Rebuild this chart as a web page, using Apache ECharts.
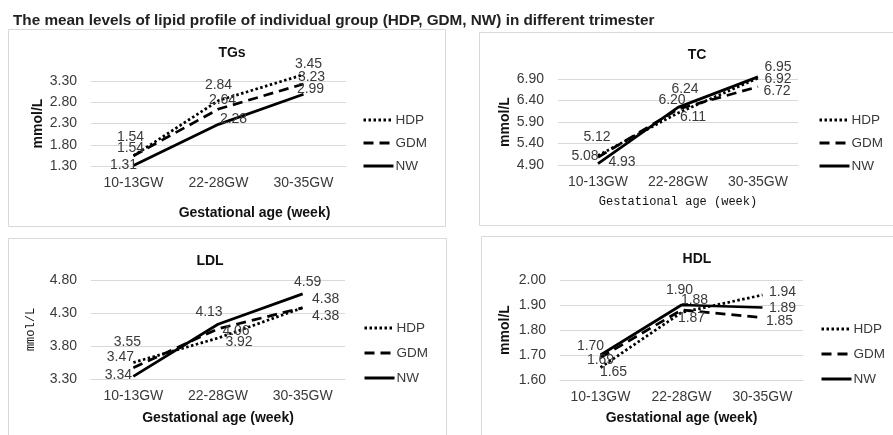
<!DOCTYPE html>
<html>
<head>
<meta charset="utf-8">
<script src="https://cdn.jsdelivr.net/npm/echarts@6/dist/echarts.min.js"></script>
<style>
    html, body { margin: 0; padding: 0; background: #fff; }
    #main { width: 893px; height: 435px; }
</style>
</head>
<body>
<div id="main"></div>
<script>
// categories and groups
var categories = ['10-13GW', '22-28GW', '30-35GW'];
var groups = ['HDP', 'GDM', 'NW'];

// TGs (mmol/L)
var tgHDP = [1.54, 2.84, 3.45];
var tgGDM = [1.54, 2.64, 3.23];
var tgNW = [1.31, 2.28, 2.99];

// TC (mmol/L)
var tcHDP = [5.12, 6.11, 6.92];
var tcGDM = [5.08, 6.20, 6.72];
var tcNW = [4.93, 6.24, 6.95];

// LDL (mmol/L)
var ldlHDP = [3.55, 3.92, 4.38];
var ldlGDM = [3.47, 4.06, 4.38];
var ldlNW = [3.34, 4.13, 4.59];

// HDL (mmol/L)
var hdlHDP = [1.65, 1.87, 1.94];
var hdlGDM = [1.69, 1.88, 1.85];
var hdlNW = [1.70, 1.90, 1.89];

// y axis ranges [min, max, interval]
var tgAxis = [1.3, 3.3, 0.5];
var tcAxis = [4.9, 6.9, 0.5];
var ldlAxis = [3.3, 4.8, 0.5];
var hdlAxis = [1.6, 2.0, 0.1];

var sans = 'Liberation Sans, Arial, sans-serif';
var simsun = 'Liberation Mono, monospace';
var textColor = '#3a3a3a';

// line look per group
var lineTypes = {
    HDP: { type: [2.5, 2.5], cap: 'butt' },
    GDM: { type: [10, 6], cap: 'butt' },
    NW: { type: 'solid', cap: 'butt' }
};

// panel layout, label nudges are [dx, dy] from the point
var panels = [{
    title: 'TGs', titleAt: [227, 49],
    values: [tgHDP, tgGDM, tgNW], axis: tgAxis,
    grid: { left: 91, top: 81, width: 255, height: 85 },
    legend: { left: 362, top: 113, itemGap: 9 },
    xName: { gap: 40, pad: [0, 0, 0, 72], font: sans, weight: 'bold', size: 14 },
    yName: { gap: 46, font: sans, weight: 'bold', size: 14 },
    nudge: [
        [[-3, -19], [0, -15], [5, -10]],
        [[-3, -8], [4, -9], [8, -7]],
        [[-10, 0], [15, -5], [7, -5]]
    ],
    box: [8, 29, 437, 197]
}, {
    title: 'TC', titleAt: [692, 51],
    values: [tcHDP, tcGDM, tcNW], axis: tcAxis,
    grid: { left: 558, top: 79, width: 240, height: 86 },
    legend: { left: 818, top: 113, itemGap: 9 },
    xName: { gap: 31, pad: 0, font: simsun, weight: 'normal', size: 12 },
    yName: { gap: 46, font: sans, weight: 'bold', size: 14 },
    nudge: [
        [[-1, -18], [15, 4], [20, 1]],
        [[-13, -1], [-6, -9], [19, 4]],
        [[24, -2], [7, -18], [20, -10]]
    ],
    box: [479, 32, 430, 193]
}, {
    title: 'LDL', titleAt: [205, 257],
    values: [ldlHDP, ldlGDM, ldlNW], axis: ldlAxis,
    grid: { left: 91, top: 280, width: 254, height: 99 },
    legend: { left: 363, top: 321, itemGap: 11 },
    xName: { gap: 32, pad: 0, font: sans, weight: 'bold', size: 14 },
    yName: { gap: 54, font: simsun, weight: 'normal', size: 12 },
    nudge: [
        [[-6, -20], [21, 4], [23, 8]],
        [[-13, -11], [18, 2], [23, -9]],
        [[-15, -1], [-9, -12], [5, -12]]
    ],
    box: [8, 238, 438, 210]
}, {
    title: 'HDL', titleAt: [692, 255],
    values: [hdlHDP, hdlGDM, hdlNW], axis: hdlAxis,
    grid: { left: 560, top: 280, width: 243, height: 100 },
    legend: { left: 820, top: 322, itemGap: 11 },
    xName: { gap: 31, pad: 0, font: sans, weight: 'bold', size: 14 },
    yName: { gap: 48, font: sans, weight: 'bold', size: 14 },
    nudge: [
        [[13, 5], [10, 6], [20, -3]],
        [[0, 3], [13, -10], [17, 4]],
        [[-10, -9], [-2, -15], [20, 1]]
    ],
    box: [481, 236, 430, 210]
}];

var chart = echarts.init(document.getElementById('main'));

var titles = [{
    text: 'The mean levels of lipid profile of individual group (HDP, GDM, NW) in different trimester',
    left: 8,
    top: 8,
    textStyle: { fontFamily: sans, fontSize: 15.3, fontWeight: 'bold', color: '#222' }
}];
var grids = [], xAxes = [], yAxes = [], legends = [], series = [], boxes = [];

panels.forEach(function(p, i) {
    titles.push({
        text: p.title,
        left: p.titleAt[0],
        top: p.titleAt[1] - 8,
        textAlign: 'center',
        textStyle: { fontFamily: sans, fontSize: 14, fontWeight: 'bold', color: '#111' }
    });

    grids.push(p.grid);

    xAxes.push({
        type: 'category',
        gridIndex: i,
        data: categories,
        boundaryGap: true,
        name: 'Gestational age (week)',
        nameLocation: 'middle',
        nameGap: p.xName.gap,
        nameTextStyle: {
            fontFamily: p.xName.font, fontSize: p.xName.size,
            fontWeight: p.xName.weight, color: '#111', padding: p.xName.pad
        },
        axisLine: { show: true, lineStyle: { color: '#d9d9d9' } },
        axisTick: { show: false },
        axisLabel: { fontFamily: sans, fontSize: 14, color: textColor, margin: 10 }
    });

    yAxes.push({
        type: 'value',
        gridIndex: i,
        min: p.axis[0],
        max: p.axis[1],
        interval: p.axis[2],
        name: 'mmol/L',
        nameLocation: 'middle',
        nameGap: p.yName.gap,
        nameTextStyle: {
            fontFamily: p.yName.font, fontSize: p.yName.size,
            fontWeight: p.yName.weight, color: '#111'
        },
        axisLine: { show: false },
        axisTick: { show: false },
        splitLine: { lineStyle: { color: '#d9d9d9' } },
        axisLabel: {
            fontFamily: sans, fontSize: 14, color: textColor, margin: 14,
            formatter: function(v) { return v.toFixed(2); }
        }
    });

    legends.push({
        orient: 'vertical',
        left: p.legend.left,
        top: p.legend.top,
        padding: 0,
        itemWidth: 30,
        itemHeight: 14,
        itemGap: p.legend.itemGap,
        data: groups,
        lineStyle: { width: 3 },
        textStyle: { fontFamily: sans, fontSize: 13.5, color: textColor, padding: [0, 0, 0, -3] }
    });

    groups.forEach(function(g, s) {
        series.push({
            name: g,
            type: 'line',
            xAxisIndex: i,
            yAxisIndex: i,
            clip: false,
            symbol: 'circle',
            symbolSize: 2,
            itemStyle: { color: 'rgba(0,0,0,0)' },
            lineStyle: { color: '#000', width: 2.75, type: lineTypes[g].type, cap: lineTypes[g].cap },
            label: {
                show: true,
                position: 'inside',
                fontFamily: sans,
                fontSize: 14,
                color: textColor,
                formatter: function(params) { return params.value.toFixed(2); }
            },
            data: p.values[s].map(function(v, k) {
                return { value: v, label: { offset: p.nudge[s][k] } };
            })
        });
    });

    // chart area border
    boxes.push({
        type: 'rect',
        shape: { x: p.box[0] + 0.5, y: p.box[1] + 0.5, width: p.box[2], height: p.box[3] },
        style: { fill: 'none', stroke: '#d9d9d9', lineWidth: 1 },
        z: -1
    });
});

chart.setOption({
    animation: false,
    backgroundColor: '#fff',
    title: titles,
    grid: grids,
    xAxis: xAxes,
    yAxis: yAxes,
    legend: legends,
    graphic: boxes,
    series: series
});
</script>
</body>
</html>
